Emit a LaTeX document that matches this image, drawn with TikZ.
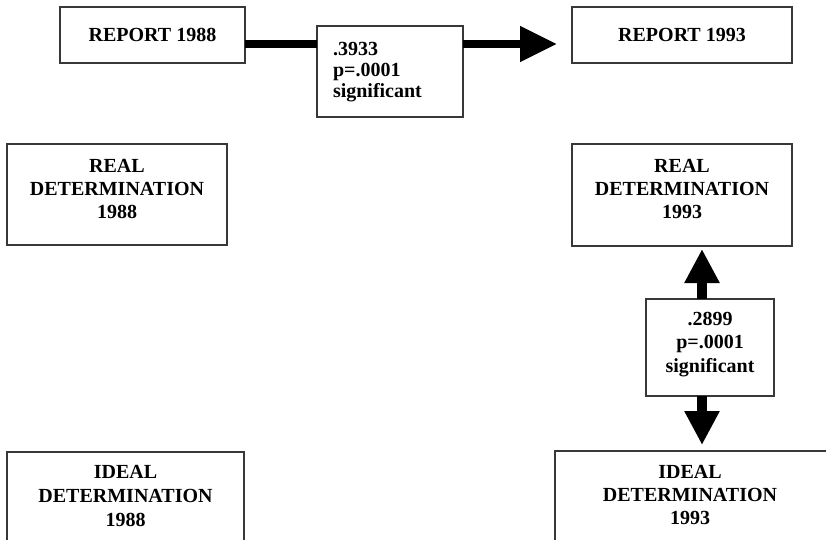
\documentclass[tikz,border=0pt]{standalone}
\usepackage{fontspec}
\setmainfont{Liberation Serif}
\usetikzlibrary{arrows.meta}

% fixed-size text block: width, height, top gap, baselineskip, lines
\newcommand{\cellblock}[5]{\parbox[c][#2][t]{#1}{\fontsize{20pt}{#4}\selectfont\bfseries\centering\vspace*{#3}#5\par}}
% same, left aligned with an indent
\newcommand{\cellblockleft}[6]{\parbox[c][#2][t]{#1}{\fontsize{20pt}{#4}\selectfont\bfseries\raggedright\leftskip=#6\vspace*{#3}#5\par}}

\tikzset{
  framebox/.style={draw=black!78, line width=1.4pt, fill=white, inner sep=0pt, outer sep=0pt, anchor=north west},
  titlebox/.style={framebox, font=\fontsize{20pt}{23pt}\selectfont\bfseries},
  shaft/.style={line width=8pt, black},
  bigarrow/.style={line width=8pt, black, -{Triangle[length=37pt,width=34pt]}},
  vertarrow/.style={line width=10pt, black, -{Triangle[length=34pt,width=33pt]}},
}

\begin{document}
\begin{tikzpicture}[x=1pt,y=-1pt]
  \useasboundingbox (0,0) rectangle (826,539);
  \clip (0,0) rectangle (826,539);

  % report boxes
  \node[titlebox, minimum width=185pt, minimum height=56pt] (r88) at (60,7) {REPORT 1988};
  \node[titlebox, minimum width=220pt, minimum height=56pt] (r93) at (572,7) {REPORT 1993};

  % correlation box between the reports
  \node[framebox] (s1) at (317,26)
    {\cellblockleft{146pt}{91pt}{16pt}{21pt}{.3933\\p=.0001\\significant}{16pt}};

  % real determination boxes
  \node[framebox] (real88) at (7,144)
    {\cellblock{220pt}{101pt}{15pt}{23pt}{REAL\\DETERMINATION\\1988}};
  \node[framebox] (real93) at (572,144)
    {\cellblock{220pt}{102pt}{15pt}{23pt}{REAL\\DETERMINATION\\1993}};

  % correlation box between real and ideal 1993
  \node[framebox] (s2) at (646,299)
    {\cellblock{128pt}{97pt}{13pt}{23.5pt}{.2899\\p=.0001\\significant}};

  % ideal determination boxes (running past the lower edge)
  \node[framebox] (ideal88) at (7,452)
    {\cellblock{237pt}{101pt}{13pt}{24pt}{IDEAL\\DETERMINATION\\1988}};
  \node[framebox] (ideal93) at (555,451)
    {\cellblock{270pt}{101pt}{14pt}{23pt}{IDEAL\\DETERMINATION\\1993}\hspace*{20pt}};

  % report 1988 -> report 1993
  \coordinate (a1) at ([yshift=-9pt]r88.east);
  \draw[shaft] (a1) -- (a1 -| s1.west);
  \draw[bigarrow, shorten >=15pt] (a1 -| s1.east) -- (a1 -| r93.west);

  % real 1993 <-> ideal 1993
  \coordinate (vx) at (702,0);
  \coordinate (t1) at ([yshift=-3pt]real93.south);
  \coordinate (t2) at ([yshift=6pt]ideal93.north);
  \draw[vertarrow] (s2.north -| vx) -- (t1 -| vx);
  \draw[vertarrow] (s2.south -| vx) -- (t2 -| vx);
\end{tikzpicture}
\end{document}
